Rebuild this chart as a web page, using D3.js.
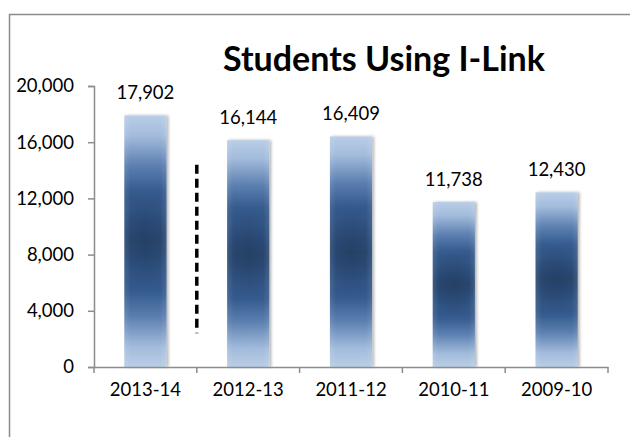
<!DOCTYPE html>
<html>
<head>
<meta charset="utf-8">
<script src="https://cdn.jsdelivr.net/npm/d3@7"></script>
<style>
  body { margin: 0; background: #fff; }
  text { font-family: Lato, "Open Sans", sans-serif; }
</style>
</head>
<body>
<div id="chart-area"></div>
<script>
let width = 630,
    height = 437;

const margin = {top: 86, right: 22, bottom: 70, left: 94};

// data
const years = ["2013-14", "2012-13", "2011-12", "2010-11", "2009-10"];
const students = [17902, 16144, 16409, 11738, 12430];
const yTicks = [0, 4000, 8000, 12000, 16000, 20000];
// dashed divider between the first two years, in value units
const dividerRange = [2400, 14400];

const data = years.map((y, i) => ({year: y, value: students[i]}));
const fontSize = 18.5;

const svg = d3.select("#chart-area")
  .append("svg")
  .attr("width", width)
  .attr("height", height);

// outer frame (runs off right and bottom)
svg.append("path")
  .attr("d", `M9.5,${height + 2} V14.5 H${width + 2}`)
  .attr("fill", "none")
  .attr("stroke", "#8c8c8c")
  .attr("stroke-width", 1.5);

const defs = svg.append("defs");

// vertical banding of the bars
const vg = defs.append("linearGradient")
  .attr("id", "barV")
  .attr("x1", 0).attr("y1", 0).attr("x2", 0).attr("y2", 1);
[[0, "#b9cde6"], [0.08, "#a3bcdc"], [0.2, "#5b7fb0"], [0.3, "#355b8e"], [0.4, "#2e5180"],
 [0.5, "#2a4770"], [0.6, "#2e5180"], [0.7, "#355b8e"], [0.8, "#5b7fb0"], [0.92, "#a3bcdc"], [1, "#b9cde6"]]
  .forEach(s => vg.append("stop").attr("offset", s[0]).attr("stop-color", s[1]));

// lighter side edges
const hg = defs.append("linearGradient")
  .attr("id", "barH")
  .attr("x1", 0).attr("y1", 0).attr("x2", 1).attr("y2", 0);
[[0, 0.1], [0.15, 0], [0.85, 0], [1, 0.1]]
  .forEach(s => hg.append("stop").attr("offset", s[0]).attr("stop-color", "#fff").attr("stop-opacity", s[1]));

// dark spot in the middle
const rg = defs.append("radialGradient")
  .attr("id", "barR")
  .attr("cx", 0.5).attr("cy", 0.5).attr("r", 0.5)
  .attr("gradientTransform", "translate(0.5,0.5) scale(1,0.4) translate(-0.5,-0.5)");
rg.append("stop").attr("offset", 0).attr("stop-color", "#1c2f4a").attr("stop-opacity", 0.3);
rg.append("stop").attr("offset", 1).attr("stop-color", "#1c2f4a").attr("stop-opacity", 0);

const shadow = defs.append("filter").attr("id", "shadow")
  .attr("x", "-20%").attr("y", "-5%").attr("width", "140%").attr("height", "110%");
shadow.append("feGaussianBlur").attr("in", "SourceAlpha").attr("stdDeviation", 1.5);
shadow.append("feOffset").attr("dx", 1.5).attr("dy", 0).attr("result", "b");
shadow.append("feComponentTransfer").append("feFuncA").attr("type", "linear").attr("slope", 0.3);
const mg = shadow.append("feMerge");
mg.append("feMergeNode");
mg.append("feMergeNode").attr("in", "SourceGraphic");

// scales
let x = d3.scaleBand()
  .domain(years)
  .range([margin.left, width - margin.right])
  .paddingInner(0.59)
  .paddingOuter(0.295);

let y = d3.scaleLinear()
  .domain([0, 20000])
  .range([height - margin.bottom, margin.top]);

// title
svg.append("text")
  .attr("x", 384)
  .attr("y", 71)
  .attr("text-anchor", "middle")
  .attr("font-size", 34)
  .attr("font-weight", "bold")
  .attr("fill", "#000")
  .text("Students Using I-Link");

// bars
const bars = svg.append("g")
  .selectAll("g")
  .data(data)
  .join("g");

["barV", "barH", "barR"].forEach((id, k) => {
  bars.append("rect")
    .attr("x", d => x(d.year))
    .attr("y", d => y(d.value))
    .attr("width", x.bandwidth())
    .attr("height", d => y(0) - y(d.value))
    .attr("fill", `url(#${id})`)
    .attr("filter", k === 0 ? "url(#shadow)" : null);
});

// value labels
svg.append("g")
  .selectAll("text")
  .data(data)
  .join("text")
  .attr("x", d => x(d.year) + x.bandwidth() / 2)
  .attr("y", d => y(d.value) - 16)
  .attr("text-anchor", "middle")
  .attr("font-size", fontSize)
  .attr("fill", "#000")
  .text(d => d3.format(",")(d.value));

// axes
const axisColor = "#8c8c8c";

const yAxis = g => g
  .attr("transform", `translate(${margin.left},0)`)
  .call(d3.axisLeft(y).tickValues(yTicks).tickFormat(d3.format(",")).tickSize(6).tickPadding(14))
  .call(g => g.selectAll(".domain, .tick line").attr("stroke", axisColor).attr("stroke-width", 1.5))
  .call(g => g.selectAll(".tick text").attr("font-size", fontSize).attr("fill", "#000")
    .attr("font-family", "Lato, 'Open Sans', sans-serif"));

const xAxis = g => g
  .attr("transform", `translate(0,${height - margin.bottom})`)
  .call(d3.axisBottom(x).tickSize(0).tickPadding(16))
  .call(g => g.selectAll(".domain").attr("stroke", axisColor).attr("stroke-width", 1.5))
  .call(g => g.selectAll(".tick text").attr("font-size", fontSize).attr("fill", "#000")
    .attr("font-family", "Lato, 'Open Sans', sans-serif"));

svg.append("g").call(yAxis);
svg.append("g").call(xAxis);

// category boundary ticks under the x axis
const step = x.step();
const bounds = d3.range(years.length + 1).map(i => margin.left + i * step);
svg.append("g")
  .selectAll("line")
  .data(bounds)
  .join("line")
  .attr("x1", d => d).attr("x2", d => d)
  .attr("y1", y(0)).attr("y2", y(0) + 6)
  .attr("stroke", axisColor)
  .attr("stroke-width", 1.5);

// dashed divider
const divX = (x(years[0]) + x.bandwidth() + x(years[1])) / 2;
svg.append("line")
  .attr("x1", divX).attr("x2", divX)
  .attr("y1", y(dividerRange[1])).attr("y2", y(dividerRange[0]))
  .attr("stroke", "#000")
  .attr("stroke-width", 3.5)
  .attr("stroke-dasharray", "9,5");
</script>
</body>
</html>
